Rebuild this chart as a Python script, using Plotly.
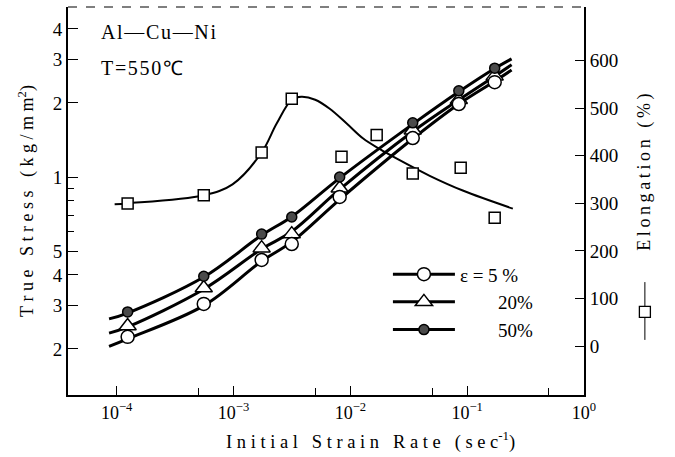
import plotly.graph_objects as go

# ---------------- data ----------------
rate = [1.24e-4, 5.56e-4, 1.74e-3, 3.15e-3, 8.1e-3, 0.0342, 0.0848, 0.172]
stress_5 = [0.224, 0.305, 0.46, 0.534, 0.83, 1.44, 1.98, 2.43]
stress_20 = [0.248, 0.354, 0.514, 0.586, 0.90, 1.55, 2.06, 2.57]
stress_50 = [0.283, 0.395, 0.586, 0.688, 1.00, 1.66, 2.24, 2.77]

# smooth fitted curves drawn in the figure
curve_rate = [8.6e-5, 1.24e-4, 5.56e-4, 1.74e-3, 3.15e-3, 8.1e-3, 0.0342, 0.0848, 0.172, 0.240]
curve_5 = [0.205, 0.220, 0.300, 0.455, 0.545, 0.81, 1.43, 1.98, 2.45, 2.72]
curve_20 = [0.232, 0.246, 0.350, 0.510, 0.600, 0.89, 1.53, 2.06, 2.57, 2.86]
curve_50 = [0.265, 0.280, 0.392, 0.580, 0.690, 0.99, 1.64, 2.22, 2.76, 3.02]

elong_rate = [1.24e-4, 5.56e-4, 1.74e-3, 3.15e-3, 8.4e-3, 0.0168, 0.0342, 0.088, 0.172]
elong = [300, 317, 407, 520, 398, 444, 363, 375, 270]

elong_curve_rate = [9.6e-5, 1.24e-4, 5.56e-4, 9.8e-4, 1.74e-3, 2.34e-3, 3.15e-3,
                    3.8e-3, 5.0e-3, 6.66e-3, 9.3e-3, 0.0128, 0.0179, 0.025,
                    0.0478, 0.0917, 0.246]
elong_curve = [298, 300, 317, 340, 407, 468, 518, 524, 518, 499, 468, 437, 414,
               394, 358, 327, 289]

x_tickvals = [1e-4, 1e-3, 1e-2, 1e-1, 1]
x_ticktext = ["10<sup>−4</sup>", "10<sup>−3</sup>", "10<sup>−2</sup>",
              "10<sup>−1</sup>", "10<sup>0</sup>"]
y_tickvals = [0.2, 0.3, 0.4, 0.5, 1, 2, 3, 4]
y_ticktext = ["2", "3", "4", "5", "1", "2", "3", "4"]
y2_tickvals = [0, 100, 200, 300, 400, 500, 600]

FONT = "Liberation Serif"


def spaced(s, sep="\u2005"):
    return sep.join(list(s))


fig = go.Figure()

# stress curves
for cy in (curve_5, curve_20, curve_50):
    fig.add_trace(go.Scatter(x=curve_rate, y=cy, mode="lines",
                             line=dict(color="black", width=3, shape="spline", smoothing=1.0),
                             showlegend=False, hoverinfo="skip"))

# elongation curve
fig.add_trace(go.Scatter(x=elong_curve_rate, y=elong_curve, yaxis="y2", mode="lines",
                         line=dict(color="black", width=2, shape="spline", smoothing=1.0),
                         showlegend=False, hoverinfo="skip"))

# elongation squares
fig.add_trace(go.Scatter(x=elong_rate, y=elong, yaxis="y2", mode="markers",
                         marker=dict(symbol="square", size=11, color="white",
                                     line=dict(color="black", width=1.5)),
                         showlegend=False))

# stress markers
m5 = dict(symbol="circle", size=13, color="white", line=dict(color="black", width=1.5))
m20 = dict(symbol="triangle-up", size=15, color="white", line=dict(color="black", width=1.5))
m50 = dict(symbol="circle", size=10, color="#4a4a4a", line=dict(color="black", width=1.5))

fig.add_trace(go.Scatter(x=rate, y=stress_20, mode="markers", marker=m20, showlegend=False))
fig.add_trace(go.Scatter(x=rate, y=stress_5, mode="markers", marker=m5, showlegend=False))
fig.add_trace(go.Scatter(x=rate, y=stress_50, mode="markers", marker=m50, showlegend=False))

# legend-only entries
for name, mk in (("ε = 5 %", m5), ("\u2007\u2007\u2007\u200720%", m20),
                 ("\u2007\u2007\u2007\u200750%", m50)):
    fig.add_trace(go.Scatter(x=[None], y=[None], mode="lines+markers", name=name,
                             marker=mk, line=dict(color="black", width=3)))

fig.update_layout(
    width=675, height=457,
    margin=dict(l=68, r=91, t=7, b=62),
    paper_bgcolor="white", plot_bgcolor="white",
    font=dict(family=FONT, size=18, color="black"),
    showlegend=True,
    legend=dict(x=0.62, y=0.36, xanchor="left", yanchor="top",
                bgcolor="rgba(0,0,0,0)", font=dict(family=FONT, size=19),
                itemwidth=62, tracegroupgap=0),
    xaxis=dict(type="log", range=[-4.417, 0], tickvals=x_tickvals, ticktext=x_ticktext,
               ticks="inside", ticklen=9, tickwidth=1, tickcolor="black",
               showline=True, linecolor="black", linewidth=2, showgrid=False,
               zeroline=False, tickfont=dict(family=FONT, size=18),
               minor=dict(tickvals=[5e-4, 5e-3, 5e-2, 5e-1], ticks="inside",
                          ticklen=7, tickcolor="black", showgrid=False)),
    yaxis=dict(type="log", range=[-0.886, 0.691], tickvals=y_tickvals, ticktext=y_ticktext,
               ticks="inside", ticklen=10, tickwidth=1, tickcolor="black",
               showline=True, linecolor="black", linewidth=2, showgrid=False,
               zeroline=False, tickfont=dict(family=FONT, size=19),
               minor=dict(tickvals=[0.6, 0.7, 0.8, 0.9], ticks="inside",
                          ticklen=6, tickcolor="black", showgrid=False),
               title=dict(text=spaced("True Stress (kg/mm") + "<sup>2</sup>)",
                          font=dict(family=FONT, size=18), standoff=14)),
    yaxis2=dict(overlaying="y", side="right", anchor="x", range=[-103, 713],
                tickvals=y2_tickvals, ticks="inside", ticklen=9, tickwidth=1,
                tickcolor="black", showline=True, linecolor="black", linewidth=2,
                showgrid=False, zeroline=False, tickfont=dict(family=FONT, size=19)),
)

# top frame (broken line in the scan)
fig.add_shape(type="line", xref="paper", yref="paper", x0=0, x1=1, y0=1, y1=1,
              line=dict(color="black", width=1.2, dash="dash"))

# annotations
fig.add_annotation(xref="paper", yref="paper", x=0.587, y=-0.116, xanchor="center",
                   yanchor="middle", showarrow=False,
                   text=spaced("Initial Strain Rate (sec") + "<sup>-1</sup>)",
                   font=dict(family=FONT, size=18.5))
fig.add_annotation(xref="paper", yref="paper", x=0.060, y=0.936, xanchor="left",
                   yanchor="middle", showarrow=False, text=spaced("Al—Cu—Ni", "\u200a"),
                   font=dict(family=FONT, size=20))
fig.add_annotation(xref="paper", yref="paper", x=0.060, y=0.843, xanchor="left",
                   yanchor="middle", showarrow=False, text=spaced("T=550℃", "\u200a"),
                   font=dict(family=FONT, size=20))
fig.add_annotation(xref="paper", yref="paper", x=1.118, y=0.575, xanchor="center",
                   yanchor="middle", showarrow=False, textangle=-90,
                   text=spaced("Elongation (%)", "\u2009"), font=dict(family=FONT, size=18))

# elongation symbol key (vertical line + square)
fig.add_shape(type="line", xref="paper", yref="paper", x0=1.118, x1=1.118,
              y0=0.142, y1=0.291, line=dict(color="black", width=1))
fig.add_shape(type="rect", xref="paper", yref="paper", xsizemode="pixel",
              ysizemode="pixel", xanchor=1.118, yanchor=0.214,
              x0=-5.5, x1=5.5, y0=-5.5, y1=5.5,
              line=dict(color="black", width=1.3), fillcolor="white")

fig.write_html("out.html")
